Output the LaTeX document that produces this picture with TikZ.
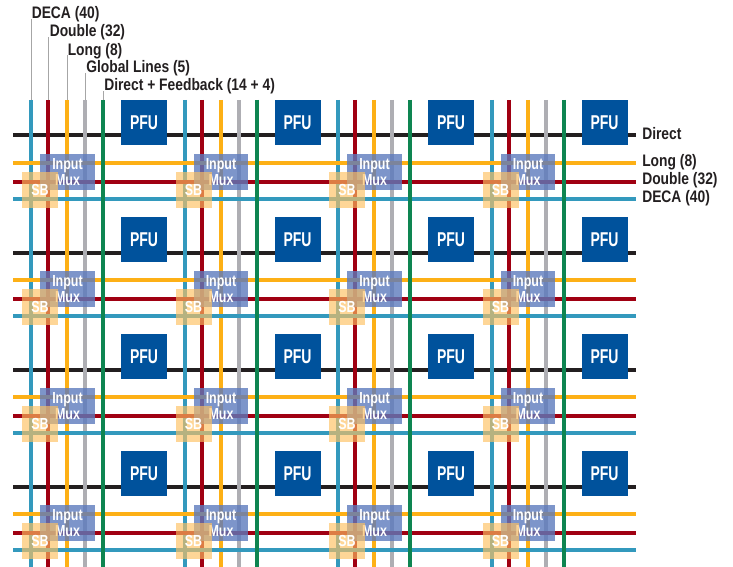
\documentclass[tikz,border=0pt]{standalone}
\usepackage{fontspec}
\setmainfont[BoldFont={Liberation Sans Bold},BoldFeatures={FakeStretch=.83},FakeStretch=.83]{Liberation Sans}
\newfontfamily\muxfont[FakeStretch=.78]{Liberation Sans Bold}
\newfontfamily\pfufont[FakeStretch=.7]{Liberation Sans Bold}
\usepackage{tikz}
\usetikzlibrary{calc}
\definecolor{cdeca}{HTML}{3399BD}
\definecolor{cdouble}{HTML}{A00012}
\definecolor{clong}{HTML}{FDB016}
\definecolor{cglobal}{HTML}{AEAEB3}
\definecolor{cdirect}{HTML}{0E8551}
\definecolor{cpfu}{HTML}{00529C}
\definecolor{cmux}{HTML}{5C7ABD}
\definecolor{csb}{HTML}{FDC060}
\definecolor{ink}{HTML}{231F20}
\tikzset{
 wire/.style={line width=3pt},
 leader/.style={draw=black!35,line width=.6pt},
 toplabel/.style={anchor=base west,inner sep=0pt,font=\bfseries\fontsize{12.5}{14}\selectfont,text=ink},
 pfubox/.style={fill=cpfu,text=white,minimum width=34.5pt,minimum height=34pt,inner sep=0pt,font=\pfufont\fontsize{15}{16}\selectfont},
 muxbox/.style={fill=cmux,fill opacity=.8,text opacity=1,text=white,minimum width=41pt,minimum height=27pt,inner sep=0pt,align=center,font=\muxfont\fontsize{12}{12.6}\selectfont},
 sbbox/.style={fill=csb,fill opacity=.65,text opacity=1,text=white,minimum width=27pt,minimum height=27pt,inner sep=0pt,font=\muxfont\fontsize{12}{12}\selectfont},
}
\begin{document}
\begin{tikzpicture}[x=.75pt,y=-.75pt]
 \useasboundingbox (0,0) rectangle (733,567);
 % labels on top
 \node[toplabel] (ldeca) at (31.5,19) {DECA (40)};
 \node[toplabel] (ldouble) at (49.5,37) {Double (32)};
 \node[toplabel] (llong) at (67.5,55.5) {Long (8)};
 \node[toplabel] (lglobal) at (86,73) {Global Lines (5)};
 \node[toplabel] (ldirect) at (104,91) {Direct + Feedback (14 + 4)};
 \foreach \n/\x in {deca/31,double/48,long/67,global/85,direct/103} {
  \coordinate (t\n) at (\x,100);
  \draw[leader] (t\n) -- (t\n |- l\n.base);
 }
 % black rows first
 \foreach \r in {0,1,2,3} {
  \coordinate (wa\r) at (13,135.5+117*\r);
  \coordinate (wb\r) at (636,135.5+117*\r);
  \draw[wire,ink] (wa\r) -- (wb\r);
 }
 % columns
 \foreach \c in {0,1,2,3} {
  \foreach \x/\col in {31/cdeca,48/cdouble,67/clong,85/cglobal} {
   \coordinate (va) at (\x+153.5*\c,100);
   \coordinate (vb) at (\x+153.5*\c,567);
   \draw[wire,\col] (va) -- (vb);
  }
 }
 % rows
 \foreach \r in {0,1,2,3} {
  \foreach \y/\col in {163/clong,182/cdouble,199/cdeca} {
   \coordinate (ha) at (13,\y+117*\r);
   \coordinate (hb) at (636,\y+117*\r);
   \draw[wire,\col] (ha) -- (hb);
  }
 }
 \foreach \c in {0,1,2,3} {
  \coordinate (va) at (103+153.5*\c,100);
  \coordinate (vb) at (103+153.5*\c,567);
  \draw[wire,cdirect] (va) -- (vb);
 }
 % blocks
 \foreach \c in {0,1,2,3} {
  \foreach \r in {0,1,2,3} {
   \node[pfubox] (pfu\c\r) at (144+153.5*\c,122.5+117*\r) {PFU};
   \node[muxbox] (mux\c\r) at (67.5+153.5*\c,172+117*\r) {Input\\Mux};
   \node[sbbox] (sb\c\r) at (40+153.5*\c,190+117*\r) {SB};
  }
 }
 % labels on the right
 \node[toplabel] (rdirect) at (642,140) {Direct};
 \node[toplabel] (rlong) at (642,166.5) {Long (8)};
 \node[toplabel] (rdouble) at (642,184.5) {Double (32)};
 \node[toplabel] (rdeca) at (642,202.5) {DECA (40)};
\end{tikzpicture}
\end{document}
